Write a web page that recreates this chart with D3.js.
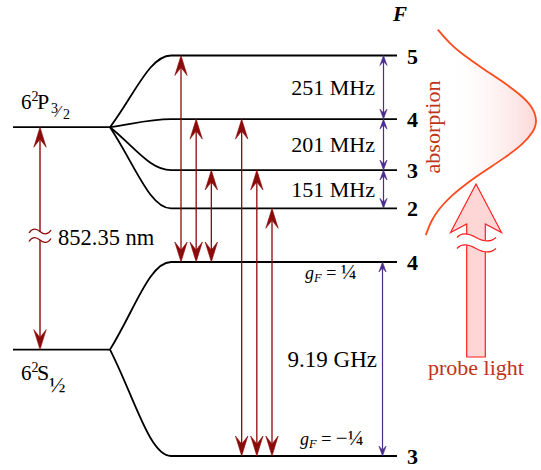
<!DOCTYPE html>
<html>
<head>
<meta charset="utf-8">
<script src="https://cdn.jsdelivr.net/npm/d3@7"></script>
<style>
  body { margin: 0; background: #fff; }
  svg { display: block; }
</style>
</head>
<body>
<svg id="chart" width="541" height="470" font-family="'Liberation Serif', 'DejaVu Serif', serif"></svg>
<script>
// Caesium D2 line: hyperfine structure of 6²S½ and 6²P3/2

// Excited state 6²P3/2 hyperfine levels (energy above F'=2, MHz)
const excitedF = [5, 4, 3, 2];
const excitedMHz = [603, 352, 151, 0];
const excitedGapLabels = ["251 MHz", "201 MHz", "151 MHz"];
const excitedCentreMHz = 320;

// Ground state 6²S½ hyperfine levels (energy above F=3, GHz)
const groundF = [4, 3];
const groundGHz = [9.19, 0];
const groundGapLabel = "9.19 GHz";
const groundCentreGHz = 5.04;
const groundGF = ["\u00BC", "\u2212\u00BC"];

// Optical transitions [ground F, excited F']
const transitions = [[4, 5], [4, 4], [4, 3], [3, 4], [3, 3], [3, 2]];
const wavelengthLabel = "852.35 nm";

// Absorption profile of the probe (frequency in MHz above F'=2, relative absorption)
const absorptionMHz = [705, 650, 600, 550, 500, 450, 400, 347, 300, 250, 200, 150, 100, 50, 0, -50, -106];
const absorptionLevel = [0.154, 0.262, 0.393, 0.548, 0.710, 0.856, 0.960, 1.0, 0.968, 0.872, 0.729, 0.567, 0.410, 0.276, 0.172, 0.100, 0.050];

// ---------- layout ----------
const svg = d3.select("#chart");
const RED = "#8b0a0a", PURPLE = "#4a2c8c", ORANGE = "#ff4a1c",
      LABELRED = "#c0341a", PINK = "#ffd6d6", PROBE = "#ff2020";

const xLeft = 13, xSplit = 110, xLevel = 171, xRight = 397, xFLabel = 407;
const yEx = d3.scaleLinear().domain([0, 603]).range([208.3, 55.5]);
const yGr = d3.scaleLinear().domain([0, 9.19]).range([456, 262]);

const transKey = t => t[0] + "-" + t[1];
const xTrans = d3.scalePoint()
  .domain([...transitions.slice(0, 3).map(transKey), "gap", ...transitions.slice(3).map(transKey)])
  .range([181, 272]);

const yExF = f => yEx(excitedMHz[excitedF.indexOf(f)]);
const yGrF = f => yGr(groundGHz[groundF.indexOf(f)]);

// ---------- helpers ----------
function splitCurve(x0, y0, x1, y1) {
  const dx = x1 - x0, dy = y1 - y0, p = d3.path();
  p.moveTo(x0, y0);
  p.bezierCurveTo(x0 + 0.4 * dx, y0 + 0.45 * dy, x1 - 0.35 * dx, y1, x1, y1);
  return p.toString();
}
// notched arrowhead; dir = -1 points up, +1 points down
function head(g, x, y, dir, len, hw, inner, color) {
  g.append("path")
    .attr("d", `M${x},${y} L${x - hw},${y - dir * len} L${x},${y - dir * inner} L${x + hw},${y - dir * len} Z`)
    .attr("fill", color).attr("stroke", color).attr("stroke-width", 0.6).attr("stroke-linejoin", "miter");
}
function doubleArrow(g, x, yTop, yBot, color, width, len, hw, inner) {
  g.append("line").attr("x1", x).attr("x2", x)
    .attr("y1", yTop + inner).attr("y2", yBot - inner)
    .attr("stroke", color).attr("stroke-width", width);
  head(g, x, yTop, -1, len, hw, inner, color);
  head(g, x, yBot, 1, len, hw, inner, color);
}

// ---------- energy levels ----------
const levels = svg.append("g").attr("fill", "none").attr("stroke", "#000").attr("stroke-width", 1.8);
const yP = yEx(excitedCentreMHz), yS = yGr(groundCentreGHz);

levels.append("line").attr("x1", xLeft).attr("x2", xSplit).attr("y1", yP).attr("y2", yP);
levels.append("line").attr("x1", xLeft).attr("x2", xSplit).attr("y1", yS).attr("y2", yS);

excitedF.forEach(f => {
  const y = yExF(f);
  levels.append("path").attr("d", splitCurve(xSplit, yP, xLevel, y));
  levels.append("line").attr("x1", xLevel).attr("x2", xRight).attr("y1", y).attr("y2", y);
});
groundF.forEach(f => {
  const y = yGrF(f);
  levels.append("path").attr("d", splitCurve(xSplit, yS, xLevel, y));
  levels.append("line").attr("x1", xLevel).attr("x2", xRight).attr("y1", y).attr("y2", y);
});

// F quantum number labels
const fLab = svg.append("g").attr("font-size", 22).attr("font-weight", "bold");
excitedF.forEach(f => fLab.append("text").attr("x", xFLabel).attr("y", yExF(f) + 8).text(f));
groundF.forEach(f => fLab.append("text").attr("x", xFLabel).attr("y", yGrF(f) + 8).text(f));
svg.append("text").attr("x", 393).attr("y", 21).attr("font-size", 21)
  .attr("font-style", "italic").attr("font-weight", "bold").text("F");

// term symbols
function termLabel(x, yBase, letter) {
  const g = svg.append("g");
  g.append("text").attr("x", x).attr("y", yBase).attr("font-size", 21).text("6");
  g.append("text").attr("x", x + 10.5).attr("y", yBase - 8).attr("font-size", 14).text("2");
  g.append("text").attr("x", x + 16).attr("y", yBase).attr("font-size", 22).text(letter);
  return g;
}
const pLab = termLabel(21, 109, "P");
pLab.append("text").attr("x", 51).attr("y", 113).attr("font-size", 14).text("3");
pLab.append("text").attr("x", 57).attr("y", 117).attr("font-size", 16).text("\u2044");
pLab.append("text").attr("x", 63).attr("y", 118.5).attr("font-size", 14).text("2");
const sLab = termLabel(21, 380, "S");
sLab.append("text").attr("x", 49).attr("y", 392).attr("font-size", 22).text("\u00BD");

// ---------- 852 nm optical line ----------
const optical = svg.append("g");
const xOpt = 40, yBreakTop = 231.5, yBreakBot = 240;
optical.append("line").attr("x1", xOpt).attr("x2", xOpt).attr("y1", yP + 12).attr("y2", yBreakTop)
  .attr("stroke", RED).attr("stroke-width", 1.4);
optical.append("line").attr("x1", xOpt).attr("x2", xOpt).attr("y1", yBreakBot).attr("y2", yS - 12)
  .attr("stroke", RED).attr("stroke-width", 1.4);
head(optical, xOpt, yP, -1, 20, 6.2, 12, RED);
head(optical, xOpt, yS, 1, 20, 6.2, 12, RED);
[yBreakTop, yBreakBot].forEach(cy => {
  optical.append("path")
    .attr("d", `M${xOpt - 11},${cy + 1.5} C${xOpt - 8},${cy - 3.5} ${xOpt - 4},${cy - 3.5} ${xOpt},${cy} S${xOpt + 8},${cy + 3.5} ${xOpt + 11},${cy - 1.5}`)
    .attr("fill", "none").attr("stroke", RED).attr("stroke-width", 1.3);
});
optical.append("text").attr("x", 58).attr("y", 245).attr("font-size", 22.5).text(wavelengthLabel);

// ---------- hyperfine transitions ----------
const trans = svg.append("g");
transitions.forEach(t => {
  doubleArrow(trans, xTrans(transKey(t)), yExF(t[1]), yGrF(t[0]), RED, 1.3, 20, 6.2, 12);
});

// ---------- hyperfine splittings ----------
const split = svg.append("g");
const xSplitArrow = 383.5;
excitedGapLabels.forEach((lab, i) => {
  const yA = yExF(excitedF[i]), yB = yExF(excitedF[i + 1]);
  doubleArrow(split, xSplitArrow, yA, yB, PURPLE, 1.2, 10, 3.6, 6);
  split.append("text").attr("x", 375).attr("y", (yA + yB) / 2 + 7.5)
    .attr("text-anchor", "end").attr("font-size", 22).text(lab);
});
{
  const yA = yGrF(groundF[0]), yB = yGrF(groundF[1]);
  doubleArrow(split, xSplitArrow - 1, yA, yB, PURPLE, 1.2, 10, 3.6, 6);
  split.append("text").attr("x", 377).attr("y", (yA + yB) / 2 + 8)
    .attr("text-anchor", "end").attr("font-size", 23).text(groundGapLabel);
}

// Landé g-factors
groundF.forEach((f, i) => {
  const t = svg.append("text").attr("x", i === 0 ? 305 : 300).attr("y", yGrF(f) + (i === 0 ? 17 : -11))
    .attr("font-size", 18);
  t.append("tspan").attr("font-style", "italic").text("g");
  t.append("tspan").attr("font-style", "italic").attr("font-size", 12.5).attr("dy", 3).text("F");
  t.append("tspan").attr("dy", -3).text(" = ");
  t.append("tspan").attr("font-size", 21).text(groundGF[i]);
});

// ---------- absorption profile ----------
const xAbs = d3.scaleLinear().domain([0, 1]).range([420, 536]);
const profile = absorptionMHz.map((m, i) => [m, absorptionLevel[i]]);
const defs = svg.append("defs");
const grad = defs.append("linearGradient").attr("id", "absFill")
  .attr("gradientUnits", "userSpaceOnUse").attr("x1", 442).attr("x2", 536).attr("y1", 0).attr("y2", 0);
grad.append("stop").attr("offset", 0).attr("stop-color", "#fff").attr("stop-opacity", 0);
grad.append("stop").attr("offset", 1).attr("stop-color", "#fcd8d8");

svg.append("path").datum(profile)
  .attr("d", d3.area().curve(d3.curveNatural).y(d => yEx(d[0])).x0(xAbs(0)).x1(d => xAbs(d[1])))
  .attr("fill", "url(#absFill)");
svg.append("path").datum(profile)
  .attr("d", d3.line().curve(d3.curveNatural).y(d => yEx(d[0])).x(d => xAbs(d[1])))
  .attr("fill", "none").attr("stroke", ORANGE).attr("stroke-width", 1.8);
svg.append("text").attr("transform", `translate(440,127) rotate(-90)`)
  .attr("text-anchor", "middle").attr("font-size", 22).attr("fill", LABELRED).text("absorption");

// ---------- probe light arrow ----------
const probe = svg.append("g");
const px = 476, shw = 9.3, tipY = 184, cornerY = 232.5, innerY = 224, hhw = 25.5, baseY = 357;
const waveTop = 237.5, waveBot = 248.5, wx0 = 457, wx1 = 496;
probe.append("path")
  .attr("d", `M${px},${tipY} L${px + hhw},${cornerY} L${px + shw},${innerY} L${px + shw},${waveTop + 5} L${px - shw},${waveTop + 5} L${px - shw},${innerY} L${px - hhw},${cornerY} Z`)
  .attr("fill", PINK).attr("stroke", PROBE).attr("stroke-width", 1.2);
probe.append("path")
  .attr("d", `M${px - shw},${waveBot - 5} L${px + shw},${waveBot - 5} L${px + shw},${baseY} L${px - shw},${baseY} Z`)
  .attr("fill", PINK).attr("stroke", PROBE).attr("stroke-width", 1.2);
const wave = cy => `M${wx0},${cy} C${wx0 + 4},${cy - 4.5} ${wx0 + 11},${cy - 4.5} ${px},${cy} S${wx1 - 5},${cy + 4.5} ${wx1},${cy}`;
const waveRev = cy => `C${wx1 - 5},${cy + 4.5} ${px + 8},${cy + 4.5} ${px},${cy} C${wx0 + 11},${cy - 4.5} ${wx0 + 4},${cy - 4.5} ${wx0},${cy}`;
probe.append("path").attr("d", `${wave(waveTop)} L${wx1},${waveBot} ${waveRev(waveBot)} Z`).attr("fill", "#fff");
[waveTop, waveBot].forEach(cy => probe.append("path").attr("d", wave(cy))
  .attr("fill", "none").attr("stroke", PROBE).attr("stroke-width", 1.2));
svg.append("text").attr("x", px).attr("y", 375).attr("text-anchor", "middle")
  .attr("font-size", 22).attr("fill", LABELRED).text("probe light");
</script>
</body>
</html>
